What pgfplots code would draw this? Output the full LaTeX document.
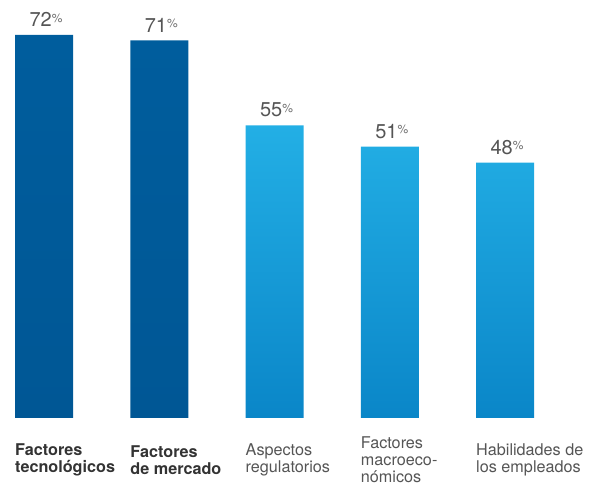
\documentclass[border=0pt]{standalone}
\usepackage{fontspec}
\setmainfont{TeX Gyre Heros}
\usepackage{pgfplots}
\pgfplotsset{compat=1.18}
\definecolor{darktop}{HTML}{005D9D}
\definecolor{darkbot}{HTML}{005795}
\definecolor{lighttop}{HTML}{23AFE5}
\definecolor{lightbot}{HTML}{0A86C8}
\definecolor{valgray}{HTML}{555555}
\definecolor{pctgray}{HTML}{707070}
\definecolor{labdark}{HTML}{333333}
\definecolor{labgray}{HTML}{555555}
\newcommand\bl[1]{\textbf{\color{labdark}#1}}
\begin{document}
\begin{tikzpicture}
\useasboundingbox (0,0) rectangle (590pt,488pt);
\begin{axis}[
  at={(0pt,70pt)}, anchor=south west,
  scale only axis, width=590pt, height=414.96pt,
  xmin=-0.3818, xmax=4.7375, ymin=0, ymax=78,
  clip=false,
  hide y axis,
  axis x line*=bottom,
  x axis line style={draw=none},
  major tick length=0pt,
  xtick={0,1,2,3,4},
  xticklabels={{\bl{Factores}\\\bl{tecnológicos}},{\bl{Factores}\\\bl{de mercado}},{Aspectos\\regulatorios},{Factores\\macroeco-\\nómicos},{Habilidades de\\los empleados}},
  xticklabel style={anchor=west, align=left, inner sep=0pt, xshift=-29pt, yshift=-42pt, text=labgray, font=\fontsize{16.2}{17}\selectfont},
  ybar, bar width=58pt, bar shift=0pt,
  point meta=y,
  nodes near coords={{\fontsize{20}{20}\selectfont\pgfmathprintnumber{\pgfplotspointmeta}}\raisebox{4.4pt}{\fontsize{12}{12}\selectfont\color{pctgray}\%}},
  every node near coord/.append style={text=valgray, shade=false, fill=none, draw=none, anchor=south, inner sep=0pt, yshift=8pt, xshift=2pt, /pgf/number format/assume math mode=true, /pgf/number format/precision=0},
]
\addplot[draw=none, top color=darktop, bottom color=darkbot] coordinates {(0,72) (1,71)};
\addplot[draw=none, top color=lighttop, bottom color=lightbot] coordinates {(2,55) (3,51) (4,48)};
\end{axis}
\end{tikzpicture}
\end{document}
